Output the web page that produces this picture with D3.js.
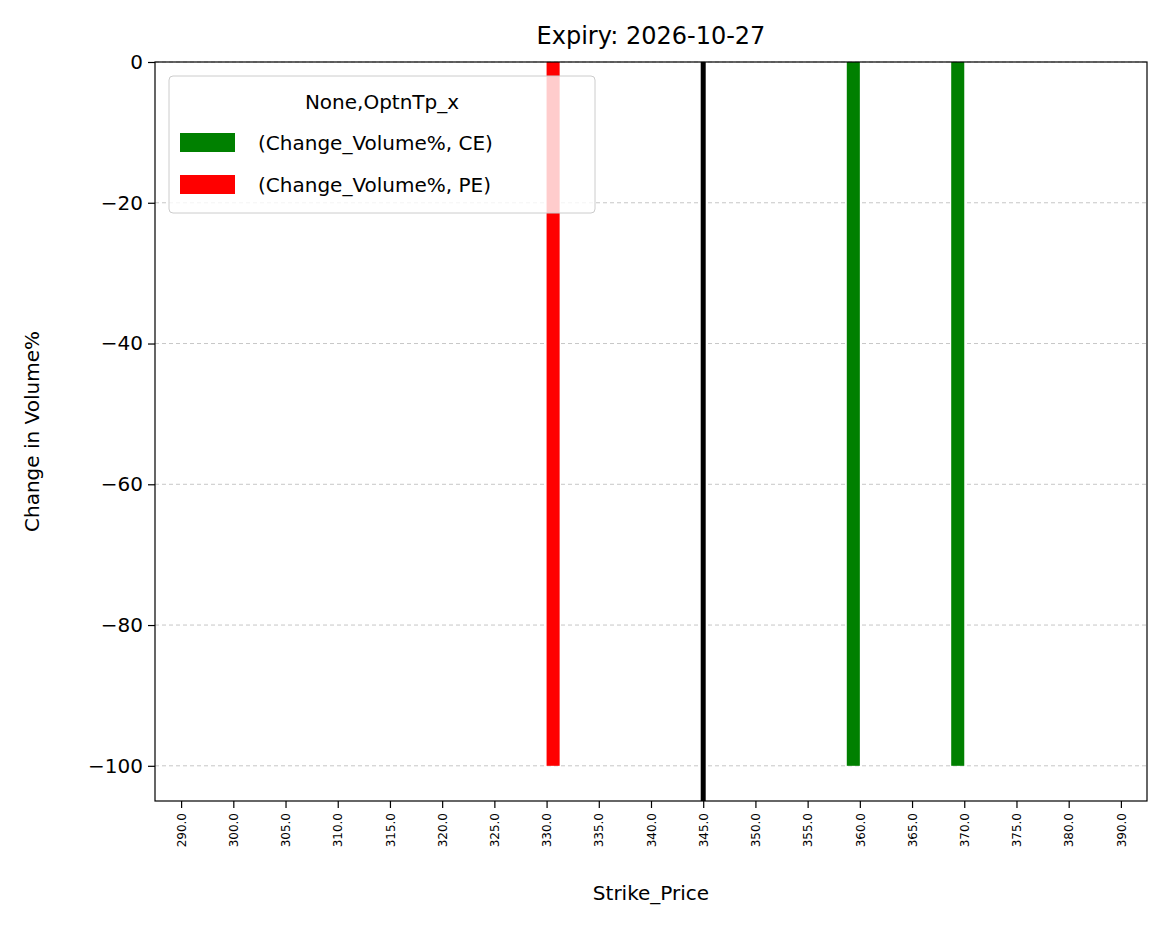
<!DOCTYPE html>
<html><head><meta charset="utf-8">
<script src="https://cdn.jsdelivr.net/npm/d3@7"></script>
<style>body{margin:0;background:#fff;font-family:"DejaVu Sans",sans-serif}</style>
</head><body><svg id="c" width="1166" height="928"></svg>
<script>
const strikes = ["290.0","300.0","305.0","310.0","315.0","320.0","325.0","330.0","335.0","340.0","345.0","350.0","355.0","360.0","365.0","370.0","375.0","380.0","390.0"];
const ceValues = [0,0,0,0,0,0,0,0,0,0,0,0,0,-100,0,-100,0,0,0];
const peValues = [0,0,0,0,0,0,0,-100,0,0,0,0,0,0,0,0,0,0,0];
const yTicks = [0,-20,-40,-60,-80,-100];
const markerStrike = "345.0";

const svg = d3.select("#c");
const L=155,R=1147,T=62,B=801;
const n=strikes.length;
const x = d3.scaleLinear().domain([-0.5,n-0.5]).range([L,R]);
const y = d3.scaleLinear().domain([-105,0]).range([B,T]);
const bw = x(0.25)-x(0);

svg.append("g").selectAll("line").data(yTicks).join("line")
 .attr("x1",L).attr("x2",R).attr("y1",d=>y(d)).attr("y2",d=>y(d))
 .attr("stroke","#b0b0b0").attr("stroke-width",1).attr("stroke-dasharray","4,3").attr("opacity",0.7);

const series=[{v:ceValues,c:"green",off:-0.25},{v:peValues,c:"red",off:0}];
series.forEach(s=>{
 svg.append("g").selectAll("rect").data(s.v.map((v,i)=>({v,i})).filter(d=>d.v!==0)).join("rect")
  .attr("x",d=>x(d.i+s.off)).attr("width",bw)
  .attr("y",d=>y(0)).attr("height",d=>y(d.v)-y(0)).attr("fill",s.c);
});

const mi=strikes.indexOf(markerStrike);
svg.append("line").attr("x1",x(mi)).attr("x2",x(mi)).attr("y1",T).attr("y2",B)
 .attr("stroke","black").attr("stroke-width",5);

svg.append("rect").attr("x",L).attr("y",T).attr("width",R-L).attr("height",B-T)
 .attr("fill","none").attr("stroke","black").attr("stroke-width",1.2);

const ya=svg.append("g").attr("transform",`translate(${L},0)`)
 .call(d3.axisLeft(y).tickValues(yTicks).tickSize(7).tickPadding(5).tickFormat(d=>d<0?"\u2212"+(-d):d));
ya.select(".domain").remove();
ya.selectAll("text").attr("font-size",20).attr("font-family","DejaVu Sans").attr("fill","black");
ya.selectAll("line").attr("stroke-width",1.2);

const xa=svg.append("g").attr("transform",`translate(0,${B})`)
 .call(d3.axisBottom(x).tickValues(d3.range(n)).tickSize(7).tickFormat(i=>strikes[i]));
xa.select(".domain").remove();
xa.selectAll("line").attr("stroke-width",1.2);
xa.selectAll("text").attr("font-size",12).attr("font-family","DejaVu Sans").attr("fill","black")
 .attr("transform","rotate(-90)").attr("text-anchor","end").attr("x",-12).attr("y",0).attr("dy","0.35em");

svg.append("text").attr("x",(L+R)/2).attr("y",44).attr("text-anchor","middle").attr("font-size",24).text("Expiry: 2026-10-27");
svg.append("text").attr("x",(L+R)/2).attr("y",900).attr("text-anchor","middle").attr("font-size",20).text("Strike_Price");
svg.append("text").attr("transform",`translate(39,${(T+B)/2}) rotate(-90)`).attr("text-anchor","middle").attr("font-size",20).text("Change in Volume%");

const lg=svg.append("g");
lg.append("rect").attr("x",169).attr("y",76).attr("width",426).attr("height",137).attr("rx",4)
 .attr("fill","white").attr("fill-opacity",0.8).attr("stroke","#ccc");
lg.append("text").attr("x",382).attr("y",109).attr("text-anchor","middle").attr("font-size",20).text("None,OptnTp_x");
[["(Change_Volume%, CE)","green"],["(Change_Volume%, PE)","red"]].forEach((d,i)=>{
 lg.append("rect").attr("x",180).attr("y",133+i*42).attr("width",55).attr("height",19).attr("fill",d[1]);
 lg.append("text").attr("x",258).attr("y",150+i*42).attr("font-size",20).text(d[0]);
});
</script></body></html>
